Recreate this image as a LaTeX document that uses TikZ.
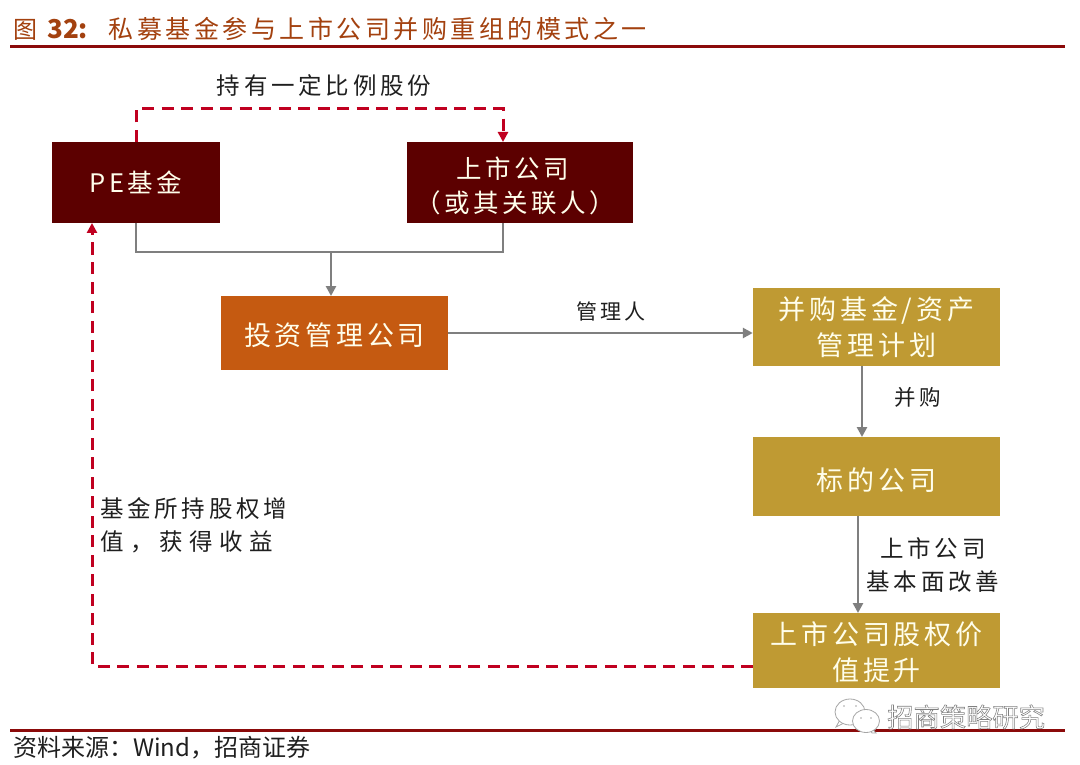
\documentclass[tikz,border=0pt]{standalone}
\usepackage{fontspec}
\setmainfont{Liberation Sans}
\newfontfamily\cjk{Noto Sans CJK SC}
\newfontfamily\cjktitle[LetterSpace=14]{Noto Sans CJK SC}
\newfontfamily\cjkbox[LetterSpace=14]{Noto Sans CJK SC}
\newfontfamily\cjklab[LetterSpace=16]{Noto Sans CJK SC}
\newfontfamily\cjklabwide[LetterSpace=27]{Noto Sans CJK SC}
\usetikzlibrary{arrows.meta,calc}
\definecolor{ruleRed}{HTML}{8B0A0A}
\definecolor{titleBrown}{HTML}{A3410F}
\definecolor{boxDark}{HTML}{5C0000}
\definecolor{boxOrange}{HTML}{C55A11}
\definecolor{boxGold}{HTML}{BF9A33}
\definecolor{lineGray}{HTML}{7F7F7F}
\definecolor{dashRed}{HTML}{C00020}
\definecolor{labelInk}{HTML}{1F1F1F}
\tikzset{
  x=1pt,y=-1pt,
  boxbase/.style={anchor=center,inner sep=0pt,align=center,text=white!92!yellow,font=\fontsize{27}{36}\selectfont\cjkbox},
  darkbox/.style={boxbase,fill=boxDark,font=\fontsize{25.5}{34}\selectfont\cjkbox},
  orangebox/.style={boxbase,fill=boxOrange},
  goldbox/.style={boxbase,fill=boxGold},
  lab/.style={inner sep=0pt,align=center,text=labelInk,font=\fontsize{23.5}{33}\selectfont\cjklab},
  grayline/.style={draw=lineGray,line width=2.5pt},
  grayarrow/.style={grayline,-{Triangle[length=10pt,width=10pt]}},
  redarrow/.style={draw=dashRed,line width=3pt,dash pattern=on 12pt off 7.5pt,-{Triangle[length=10pt,width=10pt]}},
  rulebar/.style={draw=ruleRed,line width=3pt},
  wechat/.style={draw=black!35,fill=white,line width=.8pt}
}
\begin{document}
\begin{tikzpicture}
\useasboundingbox[fill=white] (0,0) rectangle (1080,765);

% title and rules
\node[anchor=west,inner sep=0pt,text=titleBrown] (title) at (13,29)
  {\fontsize{24}{28}\selectfont\cjk 图\hspace{10pt}\textbf{\fontsize{26}{28}\selectfont 32:}\hspace{21pt}\fontsize{25}{28}\selectfont\cjktitle 私募基金参与上市公司并购重组的模式之一};
\coordinate (ruleTopL) at (10,47);
\coordinate (ruleTopR) at (1065,47);
\draw[rulebar] (ruleTopL) -- (ruleTopR);
\coordinate (ruleBotL) at (10,730);
\coordinate (ruleBotR) at (1065,730);
\draw[rulebar] (ruleBotL) -- (ruleBotR);
\node[anchor=west,inner sep=0pt,text=labelInk] (source) at (13,748)
  {\fontsize{24}{28}\selectfont\cjk 资料来源^^^^ff1aWind^^^^ff0c招商证券};

% boxes
\node[darkbox,minimum width=168pt,minimum height=81pt] (pe) at (136,182.5) {PE基金};
\node[darkbox,minimum width=226pt,minimum height=81pt] (listed) at (520,182.5) {\rule{0pt}{29pt}\hspace*{-14pt}上市公司\\\hspace*{-10pt}^^^^ff08或其关联人^^^^ff09};
\node[orangebox,minimum width=227pt,minimum height=74pt] (invest) at (334.5,333) {\rule{0pt}{28pt}投资管理公司};
\node[goldbox,minimum width=247pt,minimum height=78pt] (fund) at (876.5,327) {并购基金/资产\\管理计划};
\node[goldbox,minimum width=247pt,minimum height=79pt] (target) at (876.5,476.5) {\rule{0pt}{30pt}标的公司};
\node[goldbox,minimum width=247pt,minimum height=75pt] (value) at (876.5,650.5) {\rule{0pt}{27pt}上市公司股权价\\值提升};

% helper points
\coordinate (listedTop) at (503,142);
\coordinate (listedBot) at (503,223);
\coordinate (joinL) at (136,252);
\coordinate (joinM) at (331,252);
\coordinate (joinR) at (503,252);
\coordinate (investTop) at (331,296);
\coordinate (fundBot) at (862,366);
\coordinate (targetTop) at (862,437);
\coordinate (targetBot) at (858,516);
\coordinate (valueTop) at (858,613);
\coordinate (valueLeft) at (753,666);
\coordinate (corner) at (92,666);
\coordinate (peBot) at (92,223);
\coordinate (dashL) at (136,109);
\coordinate (dashR) at (503,109);

% connectors
\draw[redarrow] (pe.north) -- (dashL) -- (dashR) -- (listedTop);
\draw[grayline] (pe.south) -- (joinL) -- (joinR) -- (listedBot);
\draw[grayarrow] (joinM) -- (investTop);
\draw[grayarrow] (invest.east) -- (invest.east -| fund.west);
\draw[grayarrow] (fundBot) -- (targetTop);
\draw[grayarrow] (targetBot) -- (valueTop);
\draw[redarrow] (valueLeft) -- (corner) -- (peBot);

% labels
\node[lab] (holds) at (324,86) {持有一定比例股份};
\node[lab,font=\fontsize{21}{24}\selectfont\cjklab] (manager) at (611,311) {管理人};
\node[lab,font=\fontsize{21.5}{24}\selectfont\cjklab] (merge) at (918,397) {并购};
\node[lab,anchor=north] (improve) at (933,537) {上市公司\\基本面改善};
\node[lab,anchor=north west,align=left] (gain) at (100,497) {基金所持股权增\\{\cjklabwide 值^^^^ff0c获得收益}};

% watermark
\draw[wechat] (836,727) -- (841,718) -- (846,722) -- cycle;
\draw[wechat] (850,712) ellipse [x radius=15pt,y radius=13pt];
\draw[wechat] (876,733) -- (868,724) -- (872,733) -- cycle;
\draw[wechat] (866,721) ellipse [x radius=13.5pt,y radius=11.5pt];
\fill[black!35] (844,706) circle (.9pt) (856,706) circle (.9pt) (861,718) circle (.9pt) (871,718) circle (.9pt);
\node[anchor=west,inner sep=0pt,text=black!50] (mark) at (887,717)
  {\special{pdf:code 1 Tr 0.55 w}\fontsize{26.3}{28}\selectfont\cjk 招商策略研究\special{pdf:code 0 Tr}};
\end{tikzpicture}
\end{document}
